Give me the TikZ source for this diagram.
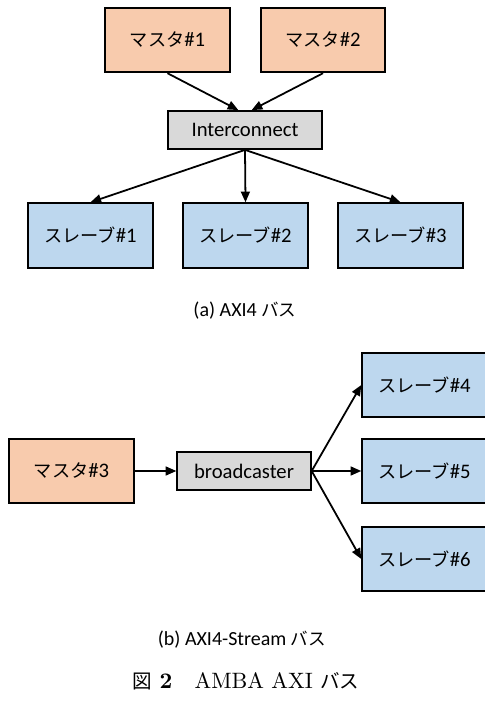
\documentclass[tikz,border=0pt]{standalone}
\usepackage{fontspec}
\newfontfamily\latinfont{Carlito}
\newfontfamily\jpfont[Scale=0.88]{Noto Sans CJK JP}
\newcommand{\jp}[1]{{\jpfont #1}}
\usepackage{xcolor}
\usetikzlibrary{arrows.meta,positioning}
\definecolor{masterfill}{HTML}{F8CBAD}
\definecolor{slavefill}{HTML}{BDD7EE}
\definecolor{hubfill}{HTML}{D9D9D9}

\begin{document}
\begin{tikzpicture}[x=0.45pt,y=-0.45pt,>={Triangle[length=4.8pt,width=4pt]},
  box/.style={draw,line width=0.9pt,minimum width=56pt,minimum height=29pt,inner sep=0pt,
    font=\latinfont\fontsize{9.3}{11}\selectfont},
  master/.style={box,fill=masterfill},
  slave/.style={box,fill=slavefill},
  hub/.style={box,fill=hubfill,minimum width=69pt,minimum height=17pt},
  arr/.style={->,line width=0.8pt},
  subcap/.style={font=\latinfont\fontsize{9}{11}\selectfont}]
\useasboundingbox (0,0) rectangle (485,704);
% (a) AXI4
\node[master] (m1) at (167.5,40) {\jp{マスタ}\#1};
\node[master] (m2) at (323,40) {\jp{マスタ}\#2};
\node[hub] (ic) at (245,130) {Interconnect};
\node[slave] (s1) at (90.5,235.5) {\jp{スレーブ}\#1};
\node[slave] (s2) at (245.5,235.5) {\jp{スレーブ}\#2};
\node[slave] (s3) at (400.5,235.5) {\jp{スレーブ}\#3};
\draw[arr] (m1.south) -- ([xshift=-3pt]ic.north);
\draw[arr] (m2.south) -- ([xshift=3pt]ic.north);
\draw[arr] (ic.south) -- (s1.north);
\draw[arr] (ic.south) -- (s2.north);
\draw[arr] (ic.south) -- (s3.north);
\node[subcap] (capa) at (245,311) {(a) AXI4 \jp{バス}};
% (b) AXI4-Stream
\node[master] (m3) at (71.5,471) {\jp{マスタ}\#3};
\node[hub,minimum width=60pt] (bc) at (244,471) {broadcaster};
\node[slave] (s4) at (424.5,385) {\jp{スレーブ}\#4};
\node[slave] (s5) at (424.5,471) {\jp{スレーブ}\#5};
\node[slave] (s6) at (424.5,559) {\jp{スレーブ}\#6};
\draw[arr] (m3.east) -- (bc.west);
\draw[arr] (bc.east) -- (s4.west);
\draw[arr] (bc.east) -- (s5.west);
\draw[arr] (bc.east) -- (s6.west);
\node[subcap] (capb) at (242,640) {(b) AXI4-Stream \jp{バス}};
\node (fig) at (246,681) {{\jpfont 図}~\textbf{2}\quad AMBA AXI {\jpfont バス}};
\end{tikzpicture}
\end{document}
